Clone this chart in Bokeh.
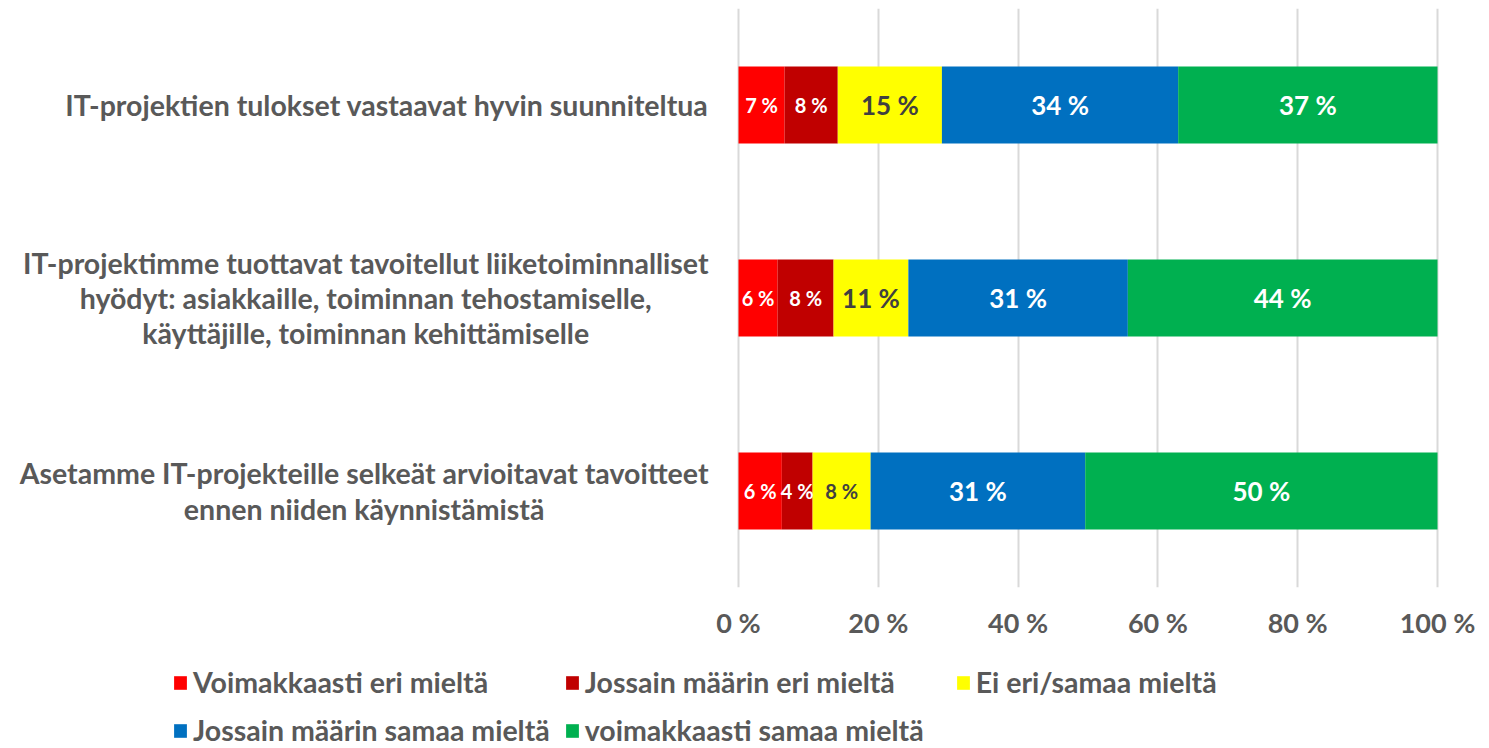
from bokeh.plotting import figure
from bokeh.layouts import column
from bokeh.models import ColumnDataSource, Range1d, FixedTicker, Legend, LegendItem
from bokeh.core.properties import value
from bokeh.embed import file_html
from bokeh.resources import INLINE

# ---- data ----
categories = [
    "IT-projektien tulokset vastaavat hyvin suunniteltua",
    "IT-projektimme tuottavat tavoitellut liiketoiminnalliset\nhyödyt: asiakkaille, toiminnan tehostamiselle,\nkäyttäjille, toiminnan kehittämiselle",
    "Asetamme IT-projekteille selkeät arvioitavat tavoitteet\nennen niiden käynnistämistä",
]
series_names = [
    "Voimakkaasti eri mieltä",
    "Jossain määrin eri mieltä",
    "Ei eri/samaa mieltä",
    "Jossain määrin samaa mieltä",
    "voimakkaasti samaa mieltä",
]
voimakkaasti_eri = [6.6, 5.6, 6.2]
jossain_eri = [7.6, 8.0, 4.4]
ei_eri_samaa = [14.9, 10.7, 8.3]
jossain_samaa = [33.8, 31.4, 30.7]
voimakkaasti_samaa = [37.1, 44.3, 50.4]
x_ticks = [0, 20, 40, 60, 80, 100]
x_tick_labels = ["0 %", "20 %", "40 %", "60 %", "80 %", "100 %"]

series_values = [voimakkaasti_eri, jossain_eri, ei_eri_samaa, jossain_samaa, voimakkaasti_samaa]
colors = ["#FF0000", "#C00000", "#FFFF00", "#0070C0", "#00B050"]
label_colors = ["#FFFFFF", "#FFFFFF", "#404040", "#FFFFFF", "#FFFFFF"]

FONT = "Lato"
GRAY = "#595959"

# layout (pixels)
W, H = 1489, 748
H1 = 650                      # chart part; the legend strip gets the rest
PLOT_L, PLOT_R, PLOT_T, PLOT_B = 738, 1437, 8, 587
px_per_unit = (PLOT_R - PLOT_L) / 100.0
EXTRA_R = 3                   # keep the 100 % grid line inside the frame

n = len(categories)
ypos = [n - 0.5 - i for i in range(n)]

p = figure(
    width=W, height=H1,
    frame_width=PLOT_R + EXTRA_R, frame_height=PLOT_B - PLOT_T,
    min_border_left=0, min_border_right=W - PLOT_R - EXTRA_R, min_border_top=PLOT_T,
    min_border_bottom=H1 - PLOT_B,
    x_range=Range1d(-PLOT_L / px_per_unit, 100 + EXTRA_R / px_per_unit),
    y_range=Range1d(0, n),
    output_backend="svg", toolbar_location=None,
)
p.outline_line_color = None
p.background_fill_color = "white"
p.border_fill_color = "white"

p.yaxis.visible = False
p.ygrid.visible = False
p.xgrid.ticker = FixedTicker(ticks=x_ticks)
p.xgrid.grid_line_color = "#D9D9D9"
p.xgrid.grid_line_width = 2
p.xaxis.ticker = FixedTicker(ticks=x_ticks)
p.xaxis.major_label_overrides = {t: l for t, l in zip(x_ticks, x_tick_labels)}
p.xaxis.axis_line_color = None
p.xaxis.major_tick_line_color = None
p.xaxis.minor_tick_line_color = None
p.xaxis.major_label_text_font = FONT
p.xaxis.major_label_text_font_style = "bold"
p.xaxis.major_label_text_font_size = "27px"
p.xaxis.major_label_text_color = GRAY
p.xaxis.major_label_standoff = 12

cum = [0.0] * n
tx, ty, tt, tc, ts = [], [], [], [], []
for k, vals in enumerate(series_values):
    left = cum[:]
    right = [l + v for l, v in zip(left, vals)]
    src = ColumnDataSource(dict(y=ypos, left=left, right=right))
    p.hbar(y="y", left="left", right="right", height=0.4, source=src,
           fill_color=colors[k], line_color=None)
    for i in range(n):
        tx.append((left[i] + right[i]) / 2)
        ty.append(ypos[i])
        tt.append(f"{round(vals[i])} %")
        tc.append(label_colors[k])
        ts.append("26px" if round(vals[i]) >= 10 else "20px")
    cum = right

tsrc = ColumnDataSource(dict(x=tx, y=ty, t=tt, c=tc, s=ts))
p.text(x="x", y="y", text="t", source=tsrc, text_color="c", text_font_size="s",
       text_font=value(FONT), text_font_style="bold",
       text_align="center", text_baseline="middle")

# category labels, right edge 30 px left of the plot area
csrc = ColumnDataSource(dict(x=[-30 / px_per_unit] * n, y=ypos, t=categories))
p.text(x="x", y="y", text="t", source=csrc, anchor="center_right",
       text_align="center", text_baseline="middle",
       text_font=value(FONT), text_font_style="bold", text_font_size="28.5px",
       text_color=GRAY, text_line_height=1.04)

# ---- legend strip ----
H2 = H - H1
p2 = figure(
    width=W, height=H2, frame_width=W, frame_height=H2,
    min_border_left=0, min_border_right=0, min_border_top=0, min_border_bottom=0,
    x_range=Range1d(0, 1), y_range=Range1d(0, 1),
    output_backend="svg", toolbar_location=None,
)
p2.axis.visible = False
p2.grid.visible = False
p2.outline_line_color = None
leg_renderers = []
for k, vals in enumerate(series_values):
    # swatch carriers: the series drawn off-range in this strip (only their legend shows)
    r = p2.hbar(y=[-5.0], left=[0.0], right=[vals[0]], height=1,
                fill_color=colors[k], line_color=None)
    leg_renderers.append(r)

# row-major order in a column-filled 3-column grid
order = [0, 3, 1, 4, 2]
legend = Legend(
    items=[LegendItem(label=series_names[k], renderers=[leg_renderers[k]]) for k in order],
    ncols=3, location=(172, 1),
    glyph_width=16, glyph_height=17, label_height=17, label_width=356,
    label_standoff=5, spacing=14, padding=0, margin=0,
    label_text_font=FONT, label_text_font_style="bold", label_text_font_size="28.5px",
    label_text_color=GRAY, border_line_color=None, background_fill_alpha=0,
)
p2.add_layout(legend)

layout = column(p, p2, spacing=0)
open("out.html", "w").write(file_html(layout, INLINE))
